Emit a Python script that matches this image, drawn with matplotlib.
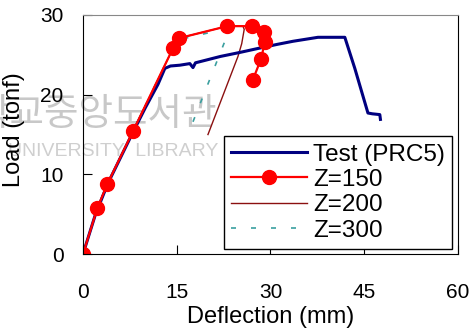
import matplotlib
matplotlib.use("Agg")
import matplotlib.pyplot as plt

plt.rcParams["font.family"] = ["Liberation Sans", "DejaVu Sans"]

# Test (PRC5) load-deflection curve
test_x = [0, 2, 4, 6, 8, 10, 12, 13.1, 14, 15.5, 17.1, 17.6, 18, 20, 22, 25.1, 28,
          31, 33.6, 37.6, 40, 41.9, 43.5, 45.6, 46.3, 47.5, 47.6]
test_y = [0, 5.0, 8.9, 12.1, 15.3, 18.4, 21.3, 23.3, 23.6, 23.7, 23.9, 23.4, 24.0,
          24.4, 24.8, 25.3, 25.8, 26.3, 26.7, 27.2, 27.2, 27.2, 23.3, 17.7, 17.6, 17.5, 16.9]

# analysis curves
z150_x = [0, 2.29, 3.9, 8.05, 14.45, 15.4, 23.1, 27.1, 29.0, 29.1, 28.5, 27.2]
z150_y = [0, 5.75, 8.8, 15.5, 25.9, 27.1, 28.6, 28.6, 27.9, 26.6, 24.5, 21.9]

z200_x = [0, 2.29, 3.9, 8.05, 14.45, 15.4, 23.1, 25.6, 25.8, 25.4, 24.8, 20.0]
z200_y = [0, 5.75, 8.8, 15.5, 25.9, 27.1, 28.6, 28.6, 28.2, 26.4, 24.8, 15.0]

z300_x = [0, 2.29, 3.9, 8.05, 14.45, 15.4, 23.0, 23.3, 22.6, 17.6]
z300_y = [0, 5.75, 8.8, 15.5, 25.9, 26.9, 28.3, 27.9, 26.5, 16.6]

x_ticks = [0, 15, 30, 45, 60]
y_ticks = [0, 10, 20, 30]

fig = plt.figure(figsize=(4.77, 3.33), dpi=100)
ax = fig.add_axes([0.174, 0.237, 0.786, 0.718])
ax.patch.set_alpha(0)

# faint library watermark behind the plot
fig.text(217 / 477, 1 - 115 / 333, "학교중앙도서관", family=["Noto Sans CJK KR"],
         fontsize=27, color="#c8c8c8", ha="right", va="center", zorder=-1)
fig.text(218 / 477, 1 - 151 / 333, "UNIVERSITY  LIBRARY", fontsize=14,
         color="#cfcfcf", ha="right", va="center", zorder=-1)

ax.plot(test_x, test_y, color="#000080", lw=2.2, label="Test (PRC5)", zorder=1.5)
ax.plot(z150_x, z150_y, color="#ff0000", lw=1.6, marker="o", ms=10,
        label="Z=150", zorder=1.6)
ax.plot(z200_x, z200_y, color="#8b1010", lw=1.0, label="Z=200", zorder=1.4)
ax.plot(z300_x, z300_y, color="#3a9f9f", lw=1.2, ls=(0, (3, 9)),
        label="Z=300", zorder=1.3)

ax.set_xlim(0, 60)
ax.set_ylim(0, 30)
ax.set_xticks(x_ticks)
ax.set_yticks(y_ticks)
ax.tick_params(direction="in", length=6.5, labelsize=15, top=False, right=False)
ax.tick_params(axis="x", pad=21)
ax.tick_params(axis="y", pad=14)
ax.spines["top"].set_color("#888888")

ax.set_xlabel("Deflection (mm)", fontsize=17, labelpad=3)
ax.set_ylabel("Load (tonf)", fontsize=17)
ax.yaxis.set_label_coords(-0.155, 0.52)

leg = ax.legend(loc="lower right", bbox_to_anchor=(0.984, 0.021), borderaxespad=0,
                fontsize=17.5, handlelength=3.1, handletextpad=0.25, labelspacing=0.14,
                borderpad=0.3, fancybox=False, framealpha=1, edgecolor="black")
leg.get_frame().set_linewidth(1.0)
leg.set_zorder(2)

fig.savefig("out.png", dpi=100)
